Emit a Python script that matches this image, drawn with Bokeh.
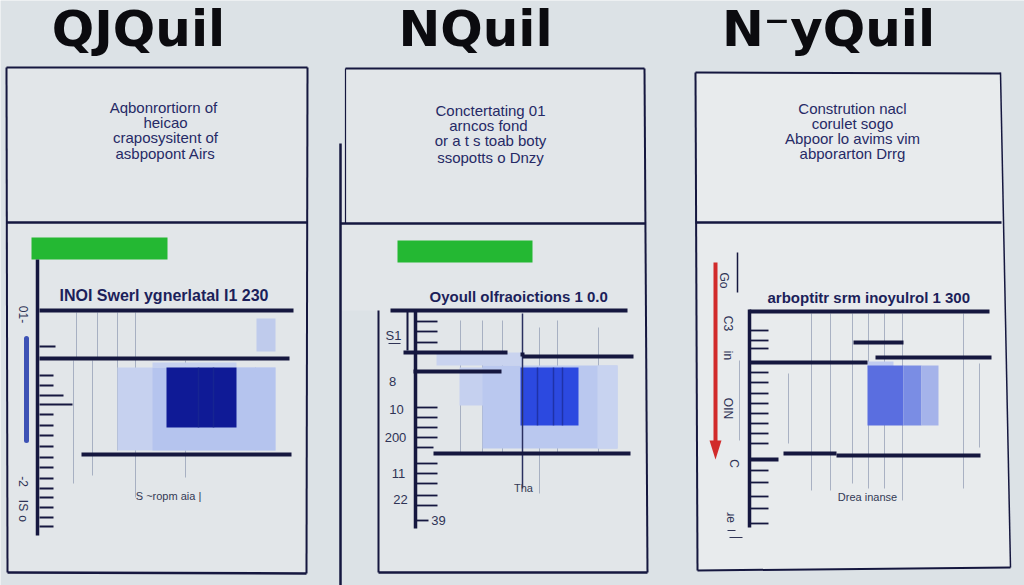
from math import pi
from bokeh.plotting import figure
from bokeh.models import Range1d
from bokeh.core.properties import value
from bokeh.embed import file_html
from bokeh.resources import INLINE

# ---------------- data (texts and values) ----------------
products = ["QJQuil", "NQuil", "N\u207byQuil"]
product_x = [138, 475, 828]

descriptions = [
    ["Aqbonrortiorn  of", "heicao", "craposysitent of", "asbpopont Airs"],
    ["Conctertating 01", "arncos  fond", "or a t s toab boty", "ssopotts o Dnzy"],
    ["Constrution nacl", "corulet sogo", "Abpoor lo avims vim", "abporarton Drrg"],
]
desc_x = [165, 490, 852]
desc_y = [[107, 122, 137, 153], [110, 125, 140, 157], [108, 123, 138, 153]]

chart_titles = ["INOI Swerl ygnerlatal I1 230", "Oyoull olfraoictions 1 0.0",
                "arboptitr srm inoyulrol 1 300"]
chart_title_x = [59, 429, 767]
chart_title_y = [295, 296, 297]
chart_title_size = ["16px", "15px", "15px"]

footnotes = ["S ~ropm aia |", "Tha", "Drea inanse"]
footnote_x = [168, 523, 867]
footnote_y = [495, 487, 496]

# green header bars: left, right, top, bottom
green_left = [31, 397]
green_right = [167, 532]
green_top = [237, 240]
green_bottom = [259, 262]

# panel 2 tick labels
p2_labels = ["S1", "8", "10", "200", "11", "22", "39"]
p2_label_x = [393, 392, 396, 395, 398, 400, 438]
p2_label_y = [335, 381, 409, 437, 473, 499, 520]

# rotated labels at the left of panels 1 and 3
rot_labels = ["01-", "-2", "IS", "o", "Go", "C3", "in", "OIN", "C", "ɹe"]
rot_x = [23, 23, 22, 22, 723, 727, 727, 727, 733, 730]
rot_y = [314, 481, 505, 518, 280, 323, 355, 408, 463, 517]

# axis tick marks (y positions) per panel
p1_ticks = [346, 375, 385, 395, 404, 414, 425, 435, 446, 457, 467, 478, 488, 497, 507, 517, 526]
p1_tick_len = [16, 14, 14, 24, 33, 14, 14, 14, 14, 14, 14, 14, 14, 14, 14, 14, 14]
p2_ticks = [321, 331, 342, 407, 417, 427, 437, 447, 463, 473, 483, 495, 505, 520]
p2_tick_len = [22, 22, 22, 22, 22, 22, 22, 18, 22, 22, 22, 22, 22, 13]
p3_ticks = [330, 340, 348, 372, 382, 393, 403, 413, 423, 433, 443, 470, 482, 496, 508, 523]

# blue blocks: left, right, top, bottom, colour
blocks = [
    (256, 275, 318, 351, "#bfcbec"),
    (117, 275, 367, 450, "#c6d1ef"),
    (152, 275, 367, 450, "#b5c4ee"),
    (152, 236, 362, 367, "#c6d1ef"),
    (166, 236, 367, 427, "#0f1a96"),
    (436, 522, 352, 365, "#c9d3ef"),
    (459, 501, 367, 405, "#c5d0ef"),
    (482, 617, 365, 448, "#bac8ef"),
    (597, 617, 365, 448, "#c8d3f0"),
    (520, 578, 367, 425, "#2c49e0"),
    (867, 893, 361, 367, "#c0cbf0"),
    (867, 903, 365, 425, "#5a6ee0"),
    (903, 921, 365, 425, "#7a8de4"),
    (921, 938, 365, 425, "#a5b3ea"),
]

# ---------------- drawing ----------------
BG = "#dce2e6"
NAVY = "#15173f"
TEXT = "#262a66"

p = figure(width=1024, height=585, output_backend="svg", toolbar_location=None,
           x_range=Range1d(0, 1024), y_range=Range1d(585, 0),
           min_border=0, outline_line_color=None,
           background_fill_color=BG, border_fill_color=BG)
p.axis.visible = False
p.grid.visible = False

# panel backgrounds
p.patches(xs=[[6, 307, 306, 7], [345, 644, 647, 378, 378, 340, 340, 345], [695, 1000, 1010, 697]],
          ys=[[67, 67, 573, 572], [68, 68, 572, 572, 310, 310, 143, 143], [72, 73, 567, 570]],
          fill_color=["#e2e6e9", "#e2e6e9", "#e8ebed"], line_color=None)

# frames
fx0 = [6, 6, 307, 6, 7, 345, 345, 340, 340, 644, 378, 378, 695, 695, 695, 1000, 697]
fy0 = [67, 67, 67, 222, 572, 68, 68, 143, 223, 68, 310, 572, 72, 72, 222, 72, 570]
fx1 = [307, 7, 306, 307, 306, 644, 345, 340, 645, 647, 378, 647, 1000, 697, 1001, 1010, 1010]
fy1 = [67, 572, 573, 222, 573, 68, 223, 585, 223, 572, 572, 572, 73, 570, 222, 567, 567]
fw = [2, 2, 2, 2.5, 2.5, 2, 1.2, 2.5, 2.5, 2, 2, 2.5, 2, 2, 2.5, 1.5, 2]
p.segment(x0=fx0, y0=fy0, x1=fx1, y1=fy1, line_color=NAVY, line_width=fw)

# green bars
p.quad(left=green_left, right=green_right, top=green_top, bottom=green_bottom,
       fill_color="#24b833", line_color=None)

# faint grid lines
gx = [76, 97, 117, 135, 73, 92, 185, 255,
      460, 482, 502, 539, 557, 598,
      788, 811, 830, 852, 868, 884, 902, 963, 979, 739]
gy0 = [312, 312, 312, 312, 360, 360, 360, 367,
       320, 320, 320, 327, 320, 327,
       373, 313, 313, 313, 313, 313, 313, 313, 363, 360]
gy1 = [357, 357, 450, 497, 483, 475, 477, 450,
       452, 452, 452, 493, 452, 452,
       443, 490, 490, 483, 488, 488, 500, 488, 447, 440]
p.segment(x0=gx, y0=gy0, x1=gx, y1=gy1, line_color="#98a2b8", line_width=1, line_alpha=0.8)

# blocks
p.quad(left=[b[0] for b in blocks], right=[b[1] for b in blocks],
       top=[b[2] for b in blocks], bottom=[b[3] for b in blocks],
       fill_color=[b[4] for b in blocks], line_color=None)
# inner lines of dark blocks
p.segment(x0=[198, 213, 537, 553, 562], y0=[367] * 5, x1=[198, 213, 537, 553, 562], y1=[427, 427, 425, 425, 425],
          line_color="#1a2a90", line_width=1.5, line_alpha=0.7)

# left blue bar of panel 1
p.segment(x0=[26], y0=[338], x1=[26], y1=[440], line_color="#3d52b5", line_width=5, line_cap="round")
# panel 2 dark vertical line
p.segment(x0=[522], y0=[313], x1=[522], y1=[488], line_color="#2a3060", line_width=1.5)
# thin black line in panel 3
p.segment(x0=[737], y0=[252], x1=[737], y1=[292], line_color=NAVY, line_width=1.5)

# axes
p.segment(x0=[37, 415, 407, 749], y0=[259, 309, 309, 309], x1=[37, 415, 407, 749], y1=[535, 528, 350, 527],
          line_color=NAVY, line_width=[3.5, 3.5, 2, 3.5])

# thick horizontal lines
hx0 = [39, 39, 81, 390, 403, 522, 522, 413, 433, 749, 853, 875, 749, 783, 836, 749]
hy0 = [310, 358, 454, 310, 352, 352, 356, 371, 453, 311, 342, 357, 362, 453, 455, 459]
hx1 = [293, 289, 291, 627, 507, 522, 633, 501, 630, 989, 903, 991, 867, 836, 980, 778]
hy1 = [310, 358, 454, 310, 352, 356, 356, 371, 453, 311, 342, 357, 362, 453, 455, 459]
p.segment(x0=hx0, y0=hy0, x1=hx1, y1=hy1, line_color=NAVY, line_width=4)

# ticks
tx0 = [39] * len(p1_ticks) + [415] * len(p2_ticks) + [749] * len(p3_ticks)
tx1 = [39 + l for l in p1_tick_len] + [415 + l for l in p2_tick_len] + [768] * len(p3_ticks)
ty = p1_ticks + p2_ticks + p3_ticks
p.segment(x0=tx0, y0=ty, x1=tx1, y1=ty, line_color=NAVY, line_width=1.8)
p.segment(x0=[388, 727, 729], y0=[343, 530, 537], x1=[400, 735, 742], y1=[343, 530, 537],
          line_color="#2f3355", line_width=1)

# red arrow
p.segment(x0=[715], y0=[262], x1=[715], y1=[446], line_color="#d12a2a", line_width=4)
p.patch(x=[709, 721, 715], y=[440, 440, 459], fill_color="#d12a2a", line_color=None)

# ---------------- texts ----------------
p.text(x=product_x, y=[28] * 3, text=products, text_font=value("DejaVu Sans"),
       text_font_size="50px", text_font_style="bold", text_color="#0b0b0f",
       text_align="center", text_baseline="middle")

dx, dy, dt = [], [], []
for i in range(3):
    for j, line in enumerate(descriptions[i]):
        dx.append(desc_x[i]); dy.append(desc_y[i][j]); dt.append(line)
p.text(x=dx, y=dy, text=dt, text_font=value("Liberation Sans"), text_font_size="15px",
       text_color=TEXT, text_align="center", text_baseline="middle")

p.text(x=chart_title_x, y=chart_title_y, text=chart_titles, text_font=value("Liberation Sans"),
       text_font_size=chart_title_size, text_font_style="bold", text_color="#1c1f5a",
       text_align="left", text_baseline="middle")

p.text(x=footnote_x, y=footnote_y, text=footnotes, text_font=value("Liberation Sans"),
       text_font_size="11px", text_color="#333a55", text_align="center", text_baseline="middle")

p.text(x=p2_label_x, y=p2_label_y, text=p2_labels, text_font=value("Liberation Sans"),
       text_font_size="13px", text_color="#2f3355", text_align="center", text_baseline="middle")

p.text(x=rot_x, y=rot_y, text=rot_labels, text_font=value("Liberation Sans"),
       text_font_size="12px", text_color="#2f3355", text_align="center", text_baseline="middle",
       angle=-pi / 2)

open("out.html", "w").write(file_html(p, INLINE))
